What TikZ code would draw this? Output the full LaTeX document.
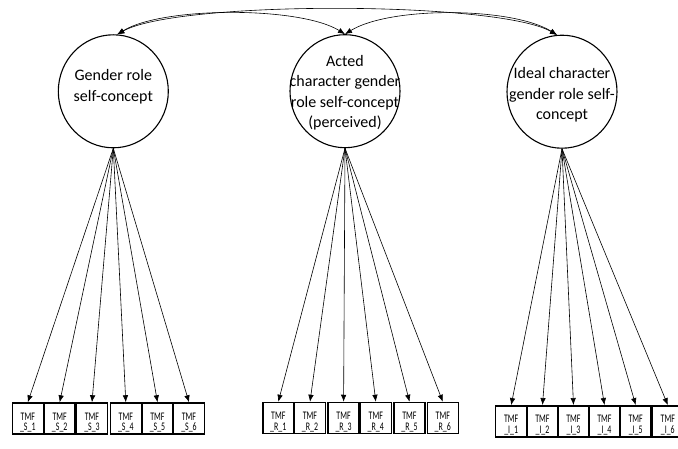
\documentclass[tikz,border=0pt]{standalone}
\usepackage{fontspec}
\setmainfont{Carlito}
\newfontfamily\boxfont[FakeStretch=0.68]{Carlito}
\usetikzlibrary{arrows.meta,shapes.geometric}

\begin{document}
\begin{tikzpicture}[x=1pt, y=-1pt,
		latent/.style={ellipse, draw, line width=1.1pt, minimum width=110pt, minimum height=113pt, inner sep=0pt},
		lvtext/.style={align=center, font=\fontsize{16}{20.5}\selectfont, inner sep=0pt},
		obs/.style={draw, line width=1.5pt, minimum width=31pt, minimum height=31pt, inner sep=0pt, align=center, text height=24pt, text depth=0pt, font=\boxfont\fontsize{11.6}{10.4}\selectfont},
		load/.style={-{Latex[length=7pt,width=5.5pt]}, line width=0.6pt},
		cov/.style={{Latex[length=7pt,width=5.5pt]}-{Latex[length=7pt,width=5.5pt]}, line width=0.6pt}]
		\useasboundingbox (0,0) rectangle (678,449);
		\clip (0,0) rectangle (678,449);
%		\draw [step=10, gray, thin, opacity=0.5] (0,0) grid (678,449);
		
		\node[latent] (gender) at (113.3, 91.3) {};
		\node[latent] (acted) at (345, 91.2) {};
		\node[latent] (ideal) at (562, 91.7) {};
		
		\node[lvtext] (gendertext) at (113.3, 86.5) {Gender role\\self-concept};
		\node[lvtext] (actedtext) at (345, 92.5) {Acted\\character gender\\role self-concept\\(perceived)};
		\node[lvtext] (idealtext) at (562, 94.8) {Ideal character\\gender role self-\\concept};
		
		\draw[cov] (gender.86) .. controls +(60,-34) and +(-60,-34) .. (ideal.95);
		\draw[cov] (gender.86) .. controls +(45,-28) and +(-45,-28) .. (acted.north);
		\draw[cov] (acted.north) .. controls +(45,-28) and +(-45,-28) .. (ideal.95);
		
		\node[obs] (s1) at (27.8, 418.5) {TMF\\\_S\_1};
		\node[obs] (s2) at (59.7, 418.5) {TMF\\\_S\_2};
		\node[obs] (s3) at (92, 418.5) {TMF\\\_S\_3};
		\node[obs] (s4) at (125.8, 418.5) {TMF\\\_S\_4};
		\node[obs] (s5) at (157.5, 418.5) {TMF\\\_S\_5};
		\node[obs] (s6) at (189, 418.5) {TMF\\\_S\_6};
		
		\node[obs] (r1) at (278.3, 418) {TMF\\\_R\_1};
		\node[obs] (r2) at (310, 418) {TMF\\\_R\_2};
		\node[obs] (r3) at (343.6, 418) {TMF\\\_R\_3};
		\node[obs] (r4) at (375.8, 418) {TMF\\\_R\_4};
		\node[obs] (r5) at (409.5, 418) {TMF\\\_R\_5};
		\node[obs] (r6) at (442.8, 418) {TMF\\\_R\_6};
		
		\node[obs] (i1) at (511.2, 421.3) {TMF\\\_I\_1};
		\node[obs] (i2) at (542.5, 421.3) {TMF\\\_I\_2};
		\node[obs] (i3) at (573.5, 421.3) {TMF\\\_I\_3};
		\node[obs] (i4) at (604.5, 421.3) {TMF\\\_I\_4};
		\node[obs] (i5) at (635.7, 421.3) {TMF\\\_I\_5};
		\node[obs] (i6) at (667.8, 421.3) {TMF\\\_I\_6};
		
		\draw[load] (gender.south) -- (s1.north);
		\draw[load] (gender.south) -- (s2.north);
		\draw[load] (gender.south) -- (s3.north);
		\draw[load] (gender.south) -- (s4.north);
		\draw[load] (gender.south) -- (s5.north);
		\draw[load] (gender.south) -- (s6.north);
		
		\draw[load] (acted.south) -- (r1.north);
		\draw[load] (acted.south) -- (r2.north);
		\draw[load] (acted.south) -- (r3.north);
		\draw[load] (acted.south) -- (r4.north);
		\draw[load] (acted.south) -- (r5.north);
		\draw[load] (acted.south) -- (r6.north);
		
		\draw[load] (ideal.south) -- (i1.north);
		\draw[load] (ideal.south) -- (i2.north);
		\draw[load] (ideal.south) -- (i3.north);
		\draw[load] (ideal.south) -- (i4.north);
		\draw[load] (ideal.south) -- (i5.north);
		\draw[load] (ideal.south) -- (i6.north);
	\end{tikzpicture}
\end{document}
